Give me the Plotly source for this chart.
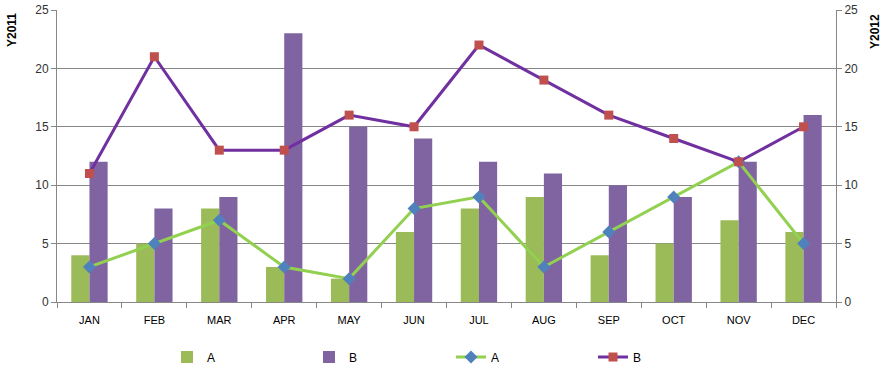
import plotly.graph_objects as go

months = ["JAN", "FEB", "MAR", "APR", "MAY", "JUN", "JUL", "AUG", "SEP", "OCT", "NOV", "DEC"]
bar_a = [4, 5, 8, 3, 2, 6, 8, 9, 4, 5, 7, 6]
bar_b = [12, 8, 9, 23, 15, 14, 12, 11, 10, 9, 12, 16]
line_a = [3, 5, 7, 3, 2, 8, 9, 3, 6, 9, 12, 5]
line_b = [11, 21, 13, 13, 16, 15, 22, 19, 16, 14, 12, 15]
y_ticks = [0, 5, 10, 15, 20, 25]

FONT = "Liberation Sans"
AXIS = "#878787"

W, H = 886, 371

fig = go.Figure()
fig.add_trace(go.Bar(x=months, y=bar_a, name="A", marker=dict(color="#9BBB59", line=dict(width=0))))
fig.add_trace(go.Bar(x=months, y=bar_b, name="B", marker=dict(color="#8064A2", line=dict(width=0))))
fig.add_trace(go.Scatter(x=months, y=line_a, name="A", yaxis="y2", mode="lines+markers",
                         line=dict(color="#92D050", width=3),
                         marker=dict(symbol="diamond", size=10, color="#4F81BD")))
fig.add_trace(go.Scatter(x=months, y=line_b, name="B", yaxis="y2", mode="lines+markers",
                         line=dict(color="#7030A0", width=3),
                         marker=dict(symbol="square", size=9, color="#C0504D")))

axis_common = dict(range=[0, 25], tickvals=y_ticks, ticks="outside", ticklen=5,
                   tickcolor=AXIS, showline=True, linecolor=AXIS, linewidth=1,
                   tickfont=dict(family=FONT, size=12, color="#333"), zeroline=False,
                   automargin=False)

fig.update_layout(
    width=W, height=H,
    margin=dict(l=57, r=50, t=10, b=69, autoexpand=False),
    paper_bgcolor="white", plot_bgcolor="white",
    barmode="group", bargap=0.44, bargroupgap=0,
    font=dict(family=FONT, size=11, color="black"),
    xaxis=dict(type="category", range=[-0.5, len(months) - 0.5],
               tickson="boundaries", ticks="outside", ticklen=5,
               tickcolor=AXIS, showline=True, linecolor=AXIS, showgrid=False,
               automargin=False,
               ticklabelstandoff=8, tickfont=dict(family=FONT, size=11, color="black")),
    yaxis=dict(showgrid=True, gridcolor=AXIS, gridwidth=1, **axis_common),
    yaxis2=dict(overlaying="y", side="right", showgrid=False, **axis_common),
    legend=dict(orientation="h", x=0.5 + 8 / W, xanchor="center", xref="container",
                y=1 - 357 / H, yanchor="middle", yref="container",
                entrywidth=97, entrywidthmode="pixels",
                font=dict(family=FONT, size=12, color="black"), itemwidth=30,
                traceorder="normal"),
    showlegend=True,
)

fig.add_annotation(text="<b>Y2011</b>", textangle=-90, xref="paper", yref="paper",
                   x=-45/779, y=1 - 20/292, xanchor="center", yanchor="middle",
                   showarrow=False, font=dict(family=FONT, size=12, color="black"))
fig.add_annotation(text="<b>Y2012</b>", textangle=-90, xref="paper", yref="paper",
                   x=1 + 39/779, y=1 - 22/292, xanchor="center", yanchor="middle",
                   showarrow=False, font=dict(family=FONT, size=12, color="black"))

fig.write_html("out.html", config={"displayModeBar": False},
               post_script="document.body.style.margin='0';document.body.style.overflow='hidden';")
